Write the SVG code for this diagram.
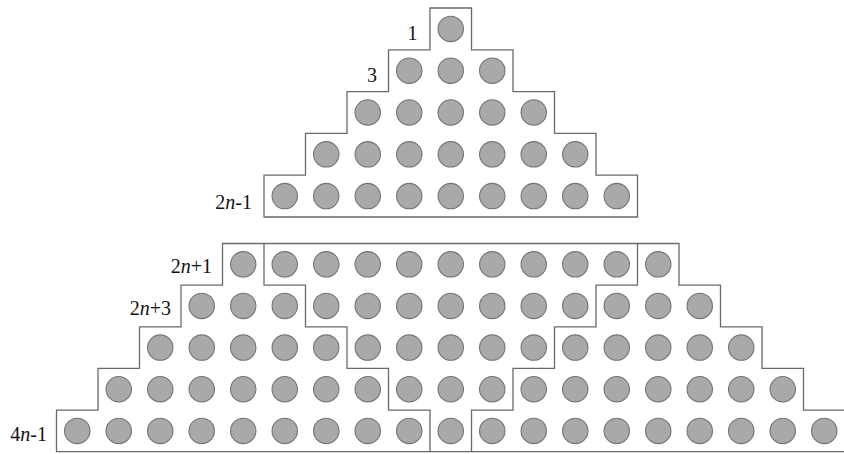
<svg xmlns="http://www.w3.org/2000/svg" width="844" height="454" viewBox="0 0 844 454">
<style>
.o{fill:none;stroke:#6a6a6a;stroke-width:1.3}
.d{fill:#a9a9a9;stroke:#747474;stroke-width:1.1}
.l{font-family:"Liberation Serif","Times New Roman",serif;font-size:20px;fill:#111;text-anchor:end}
.i{font-style:italic}
</style>
<rect width="844" height="454" fill="#fff"/>
<g id="top-pyramid">
<path class="o" d="M430,8 H471.5 V49.8 H513 V91.6 H554.5 V133.4 H596 V175.2 H637.5 V217 H264 V175.2 H305.5 V133.4 H347 V91.6 H388.5 V49.8 H430 Z"/>
<g class="d">
<circle cx="450.75" cy="28.9" r="12.7"/>
<circle cx="409.25" cy="70.7" r="12.7"/><circle cx="450.75" cy="70.7" r="12.7"/><circle cx="492.25" cy="70.7" r="12.7"/>
<circle cx="367.75" cy="112.5" r="12.7"/><circle cx="409.25" cy="112.5" r="12.7"/><circle cx="450.75" cy="112.5" r="12.7"/><circle cx="492.25" cy="112.5" r="12.7"/><circle cx="533.75" cy="112.5" r="12.7"/>
<circle cx="326.25" cy="154.3" r="12.7"/><circle cx="367.75" cy="154.3" r="12.7"/><circle cx="409.25" cy="154.3" r="12.7"/><circle cx="450.75" cy="154.3" r="12.7"/><circle cx="492.25" cy="154.3" r="12.7"/><circle cx="533.75" cy="154.3" r="12.7"/><circle cx="575.25" cy="154.3" r="12.7"/>
<circle cx="284.75" cy="196.1" r="12.7"/><circle cx="326.25" cy="196.1" r="12.7"/><circle cx="367.75" cy="196.1" r="12.7"/><circle cx="409.25" cy="196.1" r="12.7"/><circle cx="450.75" cy="196.1" r="12.7"/><circle cx="492.25" cy="196.1" r="12.7"/><circle cx="533.75" cy="196.1" r="12.7"/><circle cx="575.25" cy="196.1" r="12.7"/><circle cx="616.75" cy="196.1" r="12.7"/>
</g>
</g>
<g id="bottom-outline">
<path class="o" d="M222.5,243.5 H679 V285.1 H720.5 V326.8 H762 V368.4 H803.5 V410.1 H845 V451.7 H56.5 V410.1 H98 V368.4 H139.5 V326.8 H181 V285.1 H222.5 Z"/>
</g>
<g id="dividers">
<path class="o" d="M264,243.5 V285.1 H305.5 V326.8 H347 V368.4 H388.5 V410.1 H430 V451.7"/>
<path class="o" d="M637.5,243.5 V285.1 H596 V326.8 H554.5 V368.4 H513 V410.1 H471.5 V451.7"/>
</g>
<g id="bottom-left" class="d">
<circle cx="243.25" cy="264.3" r="12.7"/>
<circle cx="201.75" cy="305.95" r="12.7"/><circle cx="243.25" cy="305.95" r="12.7"/><circle cx="284.75" cy="305.95" r="12.7"/>
<circle cx="160.25" cy="347.6" r="12.7"/><circle cx="201.75" cy="347.6" r="12.7"/><circle cx="243.25" cy="347.6" r="12.7"/><circle cx="284.75" cy="347.6" r="12.7"/><circle cx="326.25" cy="347.6" r="12.7"/>
<circle cx="118.75" cy="389.25" r="12.7"/><circle cx="160.25" cy="389.25" r="12.7"/><circle cx="201.75" cy="389.25" r="12.7"/><circle cx="243.25" cy="389.25" r="12.7"/><circle cx="284.75" cy="389.25" r="12.7"/><circle cx="326.25" cy="389.25" r="12.7"/><circle cx="367.75" cy="389.25" r="12.7"/>
<circle cx="77.25" cy="430.9" r="12.7"/><circle cx="118.75" cy="430.9" r="12.7"/><circle cx="160.25" cy="430.9" r="12.7"/><circle cx="201.75" cy="430.9" r="12.7"/><circle cx="243.25" cy="430.9" r="12.7"/><circle cx="284.75" cy="430.9" r="12.7"/><circle cx="326.25" cy="430.9" r="12.7"/><circle cx="367.75" cy="430.9" r="12.7"/><circle cx="409.25" cy="430.9" r="12.7"/>
</g>
<g id="bottom-middle" class="d">
<circle cx="284.75" cy="264.3" r="12.7"/><circle cx="326.25" cy="264.3" r="12.7"/><circle cx="367.75" cy="264.3" r="12.7"/><circle cx="409.25" cy="264.3" r="12.7"/><circle cx="450.75" cy="264.3" r="12.7"/><circle cx="492.25" cy="264.3" r="12.7"/><circle cx="533.75" cy="264.3" r="12.7"/><circle cx="575.25" cy="264.3" r="12.7"/><circle cx="616.75" cy="264.3" r="12.7"/>
<circle cx="326.25" cy="305.95" r="12.7"/><circle cx="367.75" cy="305.95" r="12.7"/><circle cx="409.25" cy="305.95" r="12.7"/><circle cx="450.75" cy="305.95" r="12.7"/><circle cx="492.25" cy="305.95" r="12.7"/><circle cx="533.75" cy="305.95" r="12.7"/><circle cx="575.25" cy="305.95" r="12.7"/>
<circle cx="367.75" cy="347.6" r="12.7"/><circle cx="409.25" cy="347.6" r="12.7"/><circle cx="450.75" cy="347.6" r="12.7"/><circle cx="492.25" cy="347.6" r="12.7"/><circle cx="533.75" cy="347.6" r="12.7"/>
<circle cx="409.25" cy="389.25" r="12.7"/><circle cx="450.75" cy="389.25" r="12.7"/><circle cx="492.25" cy="389.25" r="12.7"/>
<circle cx="450.75" cy="430.9" r="12.7"/>
</g>
<g id="bottom-right" class="d">
<circle cx="658.25" cy="264.3" r="12.7"/>
<circle cx="616.75" cy="305.95" r="12.7"/><circle cx="658.25" cy="305.95" r="12.7"/><circle cx="699.75" cy="305.95" r="12.7"/>
<circle cx="575.25" cy="347.6" r="12.7"/><circle cx="616.75" cy="347.6" r="12.7"/><circle cx="658.25" cy="347.6" r="12.7"/><circle cx="699.75" cy="347.6" r="12.7"/><circle cx="741.25" cy="347.6" r="12.7"/>
<circle cx="533.75" cy="389.25" r="12.7"/><circle cx="575.25" cy="389.25" r="12.7"/><circle cx="616.75" cy="389.25" r="12.7"/><circle cx="658.25" cy="389.25" r="12.7"/><circle cx="699.75" cy="389.25" r="12.7"/><circle cx="741.25" cy="389.25" r="12.7"/><circle cx="782.75" cy="389.25" r="12.7"/>
<circle cx="492.25" cy="430.9" r="12.7"/><circle cx="533.75" cy="430.9" r="12.7"/><circle cx="575.25" cy="430.9" r="12.7"/><circle cx="616.75" cy="430.9" r="12.7"/><circle cx="658.25" cy="430.9" r="12.7"/><circle cx="699.75" cy="430.9" r="12.7"/><circle cx="741.25" cy="430.9" r="12.7"/><circle cx="782.75" cy="430.9" r="12.7"/><circle cx="824.25" cy="430.9" r="12.7"/>
</g>
<g id="labels" class="l">
<text x="417.5" y="39.5">1</text>
<text x="377" y="81.5">3</text>
<text x="252" y="209">2<tspan class="i">n</tspan>-1</text>
<text x="212" y="272.5">2<tspan class="i">n</tspan>+1</text>
<text x="171" y="314.5">2<tspan class="i">n</tspan>+3</text>
<text x="47" y="441">4<tspan class="i">n</tspan>-1</text>
</g>
</svg>
